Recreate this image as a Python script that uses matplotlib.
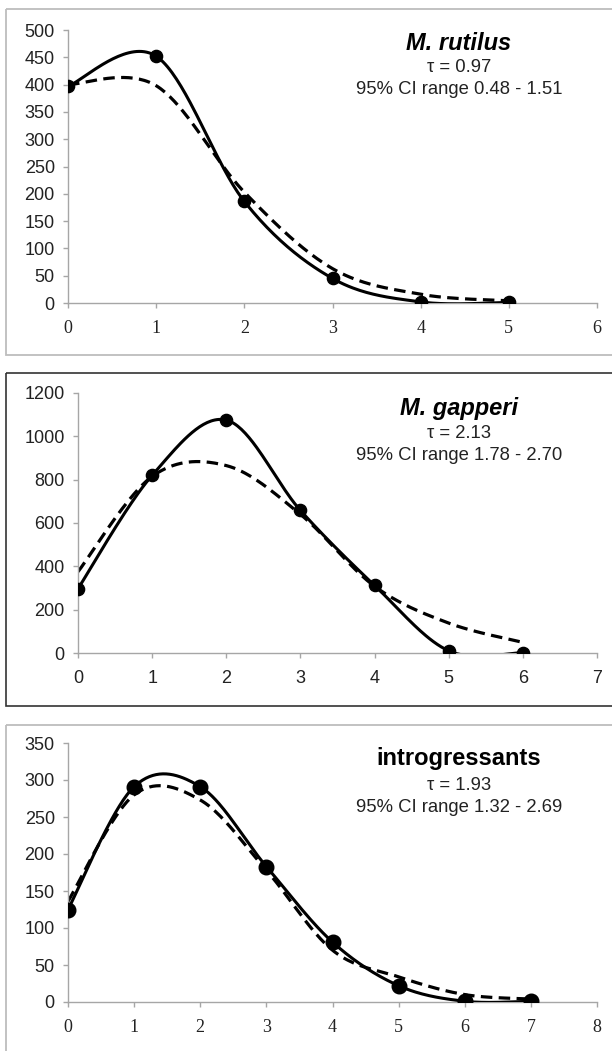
import numpy as np
import matplotlib
matplotlib.use('Agg')
import matplotlib.pyplot as plt
from matplotlib.patches import Rectangle

W, H = 612, 1051

# observed (solid) and expected (dashed) counts per panel
rutilus_x = [0, 1, 2, 3, 4, 5]
rutilus_obs = [397, 452, 186, 45, 2, 1]
rutilus_exp = [400, 398, 203, 63, 16, 4]

gapperi_x = [0, 1, 2, 3, 4, 5, 6]
gapperi_obs = [297, 820, 1075, 658, 312, 10, 2]
gapperi_exp = [375, 815, 865, 640, 308, 138, 49]

intro_x = [0, 1, 2, 3, 4, 5, 6, 7]
intro_obs = [125, 291, 291, 183, 81, 22, 1, 1]
intro_exp = [136, 280, 273, 178, 70, 34, 10, 4]

titles = ['M. rutilus', 'M. gapperi', 'introgressants']
taus = ['τ = 0.97', 'τ = 2.13', 'τ = 1.93']
cis = ['95% CI range 0.48 - 1.51', '95% CI range 1.78 - 2.70', '95% CI range 1.32 - 2.69']


def smooth(x, y, n=40):
    # Excel-style smoothed line (cubic bezier through the points)
    x = np.asarray(x, float)
    y = np.asarray(y, float)
    P = np.column_stack([x, y])
    Pe = np.vstack([P[0], P, P[-1]])
    out = []
    t = np.linspace(0, 1, n)[:, None]
    for i in range(len(P) - 1):
        p0 = Pe[i + 1]
        p3 = Pe[i + 2]
        c1 = p0 + (Pe[i + 2] - Pe[i]) / 6
        c2 = p3 - (Pe[i + 3] - Pe[i + 1]) / 6
        seg = ((1 - t) ** 3) * p0 + 3 * ((1 - t) ** 2) * t * c1 + 3 * (1 - t) * t ** 2 * c2 + t ** 3 * p3
        out.append(seg)
    s = np.vstack(out)
    return s[:, 0], s[:, 1]


fig = plt.figure(figsize=(W / 100, H / 100), dpi=100)

# background overlay in pixel coordinates for the panel frames
bg = fig.add_axes([0, 0, 1, 1])
bg.set_xlim(0, W)
bg.set_ylim(H, 0)
bg.axis('off')
bg.add_patch(Rectangle((6, 9), 620, 346, fill=False, ec='#bdbdbd', lw=1.3))
bg.add_patch(Rectangle((6, 373), 620, 333, fill=False, ec='#333333', lw=1.2))
bg.add_patch(Rectangle((6, 725), 620, 340, fill=False, ec='#bdbdbd', lw=1.3))


def pix_axes(x0, x1, ytop, ybot):
    return fig.add_axes([x0 / W, 1 - ybot / H, (x1 - x0) / W, (ybot - ytop) / H])


panels = [
    dict(x=rutilus_x, obs=rutilus_obs, exp=rutilus_exp, box=(68, 597, 30, 303),
         xmax=6, ymax=500, ystep=50, serif=True, ms=8.8, text_y=(43, 68, 90)),
    dict(x=gapperi_x, obs=gapperi_obs, exp=gapperi_exp, box=(78, 597, 393, 653),
         xmax=7, ymax=1200, ystep=200, serif=False, ms=8.8, text_y=(409, 433, 456)),
    dict(x=intro_x, obs=intro_obs, exp=intro_exp, box=(68, 597, 743, 1002),
         xmax=8, ymax=350, ystep=50, serif=True, ms=10.5, text_y=(759, 785, 807)),
]

for k, p in enumerate(panels):
    ax = pix_axes(*p['box'])
    ax.set_facecolor('none')
    sx, sy = smooth(p['x'], p['exp'])
    ax.plot(sx, sy, color='black', lw=2.3, ls=(0, (3.6, 2.0)), zorder=2)
    sx, sy = smooth(p['x'], p['obs'])
    ax.plot(sx, sy, color='black', lw=2.2, zorder=3)
    ax.plot(p['x'], p['obs'], 'o', color='black', ms=p['ms'], zorder=4)
    ax.set_xlim(0, p['xmax'])
    ax.set_ylim(0, p['ymax'])
    ax.set_xticks(range(0, p['xmax'] + 1))
    ax.set_yticks(np.arange(0, p['ymax'] + 1, p['ystep']))
    for s in ['top', 'right']:
        ax.spines[s].set_visible(False)
    for s in ['left', 'bottom']:
        ax.spines[s].set_color('#a6a6a6')
        ax.spines[s].set_linewidth(1.0)
    ax.tick_params(axis='y', direction='out', length=3.5, width=1.0, color='#a6a6a6',
                   labelsize=13, pad=6, labelcolor='#222222')
    ax.tick_params(axis='x', direction='out', length=3.5, width=1.0, color='#a6a6a6',
                   labelsize=13, pad=9, labelcolor='#222222')
    for lab in ax.get_yticklabels():
        lab.set_fontfamily('Liberation Sans')
    for lab in ax.get_xticklabels():
        lab.set_fontfamily('Liberation Serif' if p['serif'] else 'Liberation Sans')

    ty1, ty2, ty3 = p['text_y']
    style = 'italic' if k < 2 else 'normal'
    bg.text(459, ty1, titles[k], ha='center', va='center', fontsize=17,
            fontweight='bold', fontstyle=style, family='Liberation Sans')
    bg.text(459, ty2, taus[k], ha='center', va='center', fontsize=13.3,
            family='Liberation Sans', color='#222222')
    bg.text(459, ty3, cis[k], ha='center', va='center', fontsize=13.3,
            family='Liberation Sans', color='#222222')

fig.savefig('out.png', dpi=100)
